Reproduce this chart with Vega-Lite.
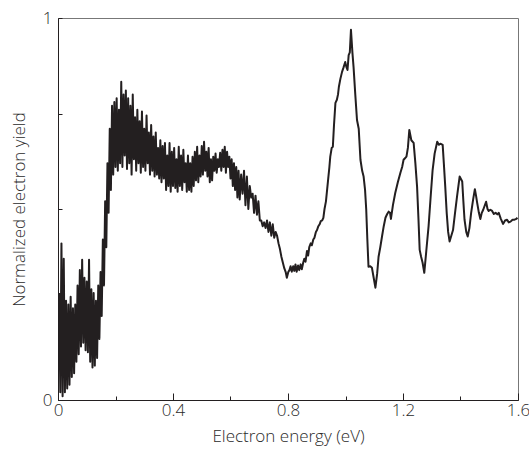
{
  "$schema": "https://vega.github.io/schema/vega-lite/v6.json",
  "width": 460,
  "height": 382,
  "autosize": {"type": "none"},
  "padding": {"left": 58, "top": 18, "right": 11, "bottom": 52},
  "background": "white",
  "config": {
    "view": {"stroke": "#777777", "strokeWidth": 1},
    "axis": {
      "labelFont": "Open Sans", "titleFont": "Open Sans",
      "labelFontSize": 17, "titleFontSize": 17,
      "labelColor": "#2a2a2a", "titleColor": "#2a2a2a",
      "titleFontWeight": 300, "labelFontWeight": 300,
      "domainColor": "#231f20", "tickColor": "#231f20",
      "grid": false
    }
  },
  "data": {"values": [
    {"energy":0.004,"yield":0.28},{"energy":0.008,"yield":0.02},{"energy":0.012,"yield":0.41},{"energy":0.016,"yield":0.01},
    {"energy":0.020,"yield":0.37},{"energy":0.024,"yield":0.02},{"energy":0.028,"yield":0.26},{"energy":0.032,"yield":0.03},
    {"energy":0.036,"yield":0.25},{"energy":0.040,"yield":0.04},{"energy":0.044,"yield":0.27},{"energy":0.048,"yield":0.06},
    {"energy":0.052,"yield":0.24},{"energy":0.056,"yield":0.07},{"energy":0.060,"yield":0.25},{"energy":0.064,"yield":0.10},
    {"energy":0.068,"yield":0.30},{"energy":0.072,"yield":0.12},{"energy":0.076,"yield":0.34},{"energy":0.080,"yield":0.14},
    {"energy":0.084,"yield":0.367},{"energy":0.088,"yield":0.15},{"energy":0.092,"yield":0.32},{"energy":0.096,"yield":0.13},
    {"energy":0.100,"yield":0.31},{"energy":0.104,"yield":0.125},{"energy":0.108,"yield":0.367},{"energy":0.112,"yield":0.10},
    {"energy":0.116,"yield":0.29},{"energy":0.120,"yield":0.085},{"energy":0.124,"yield":0.28},{"energy":0.128,"yield":0.09},
    {"energy":0.132,"yield":0.26},{"energy":0.136,"yield":0.11},{"energy":0.140,"yield":0.30},{"energy":0.144,"yield":0.16},
    {"energy":0.148,"yield":0.335},{"energy":0.152,"yield":0.22},{"energy":0.156,"yield":0.42},{"energy":0.160,"yield":0.30},
    {"energy":0.164,"yield":0.52},{"energy":0.168,"yield":0.40},{"energy":0.172,"yield":0.62},{"energy":0.176,"yield":0.49},
    {"energy":0.180,"yield":0.71},{"energy":0.184,"yield":0.55},{"energy":0.188,"yield":0.77},{"energy":0.192,"yield":0.59},
    {"energy":0.196,"yield":0.78},{"energy":0.200,"yield":0.61},{"energy":0.204,"yield":0.79},{"energy":0.208,"yield":0.60},
    {"energy":0.212,"yield":0.76},{"energy":0.216,"yield":0.62},{"energy":0.220,"yield":0.833},{"energy":0.224,"yield":0.61},
    {"energy":0.228,"yield":0.80},{"energy":0.232,"yield":0.64},{"energy":0.236,"yield":0.81},{"energy":0.240,"yield":0.605},
    {"energy":0.244,"yield":0.79},{"energy":0.248,"yield":0.62},{"energy":0.252,"yield":0.77},{"energy":0.256,"yield":0.59},
    {"energy":0.260,"yield":0.80},{"energy":0.264,"yield":0.63},{"energy":0.268,"yield":0.74},{"energy":0.272,"yield":0.60},
    {"energy":0.276,"yield":0.76},{"energy":0.280,"yield":0.62},{"energy":0.284,"yield":0.73},{"energy":0.288,"yield":0.595},
    {"energy":0.292,"yield":0.755},{"energy":0.296,"yield":0.61},{"energy":0.300,"yield":0.71},{"energy":0.304,"yield":0.60},
    {"energy":0.308,"yield":0.745},{"energy":0.312,"yield":0.62},{"energy":0.316,"yield":0.70},{"energy":0.320,"yield":0.59},
    {"energy":0.324,"yield":0.72},{"energy":0.328,"yield":0.60},{"energy":0.332,"yield":0.69},{"energy":0.336,"yield":0.585},
    {"energy":0.340,"yield":0.70},{"energy":0.344,"yield":0.59},{"energy":0.348,"yield":0.66},{"energy":0.352,"yield":0.58},
    {"energy":0.356,"yield":0.68},{"energy":0.360,"yield":0.57},{"energy":0.364,"yield":0.665},{"energy":0.368,"yield":0.58},
    {"energy":0.372,"yield":0.673},{"energy":0.376,"yield":0.55},{"energy":0.380,"yield":0.64},{"energy":0.384,"yield":0.56},
    {"energy":0.388,"yield":0.673},{"energy":0.392,"yield":0.545},{"energy":0.396,"yield":0.65},{"energy":0.400,"yield":0.56},
    {"energy":0.404,"yield":0.66},{"energy":0.408,"yield":0.555},{"energy":0.412,"yield":0.63},{"energy":0.416,"yield":0.545},
    {"energy":0.420,"yield":0.663},{"energy":0.424,"yield":0.56},{"energy":0.428,"yield":0.64},{"energy":0.432,"yield":0.55},
    {"energy":0.436,"yield":0.655},{"energy":0.440,"yield":0.57},{"energy":0.444,"yield":0.62},{"energy":0.448,"yield":0.545},
    {"energy":0.452,"yield":0.64},{"energy":0.456,"yield":0.55},{"energy":0.460,"yield":0.62},{"energy":0.464,"yield":0.545},
    {"energy":0.468,"yield":0.637},{"energy":0.472,"yield":0.56},{"energy":0.476,"yield":0.65},{"energy":0.480,"yield":0.575},
    {"energy":0.484,"yield":0.663},{"energy":0.488,"yield":0.57},{"energy":0.492,"yield":0.64},{"energy":0.496,"yield":0.585},
    {"energy":0.500,"yield":0.665},{"energy":0.504,"yield":0.59},{"energy":0.508,"yield":0.676},{"energy":0.512,"yield":0.60},
    {"energy":0.516,"yield":0.65},{"energy":0.520,"yield":0.585},{"energy":0.524,"yield":0.66},{"energy":0.528,"yield":0.57},
    {"energy":0.532,"yield":0.63},{"energy":0.536,"yield":0.575},{"energy":0.540,"yield":0.637},{"energy":0.544,"yield":0.60},
    {"energy":0.548,"yield":0.645},{"energy":0.552,"yield":0.595},{"energy":0.556,"yield":0.63},{"energy":0.560,"yield":0.61},
    {"energy":0.564,"yield":0.647},{"energy":0.568,"yield":0.60},{"energy":0.572,"yield":0.655},{"energy":0.576,"yield":0.61},
    {"energy":0.580,"yield":0.663},{"energy":0.584,"yield":0.595},{"energy":0.588,"yield":0.65},{"energy":0.592,"yield":0.61},
    {"energy":0.596,"yield":0.637},{"energy":0.600,"yield":0.58},{"energy":0.604,"yield":0.63},{"energy":0.608,"yield":0.56},
    {"energy":0.612,"yield":0.62},{"energy":0.616,"yield":0.55},{"energy":0.620,"yield":0.61},{"energy":0.624,"yield":0.53},
    {"energy":0.628,"yield":0.60},{"energy":0.632,"yield":0.525},
    {"energy":0.637,"yield":0.59},{"energy":0.642,"yield":0.54},{"energy":0.647,"yield":0.60},{"energy":0.652,"yield":0.51},
    {"energy":0.657,"yield":0.585},{"energy":0.662,"yield":0.50},{"energy":0.667,"yield":0.56},{"energy":0.672,"yield":0.53},
    {"energy":0.677,"yield":0.54},{"energy":0.682,"yield":0.49},{"energy":0.687,"yield":0.535},{"energy":0.692,"yield":0.485},
    {"energy":0.697,"yield":0.52},{"energy":0.702,"yield":0.47},{"energy":0.707,"yield":0.47},{"energy":0.712,"yield":0.455},
    {"energy":0.717,"yield":0.465},{"energy":0.722,"yield":0.45},{"energy":0.727,"yield":0.47},{"energy":0.732,"yield":0.44},
    {"energy":0.737,"yield":0.465},{"energy":0.742,"yield":0.43},{"energy":0.747,"yield":0.46},{"energy":0.752,"yield":0.425},
    {"energy":0.757,"yield":0.44},{"energy":0.762,"yield":0.43},{"energy":0.767,"yield":0.41},{"energy":0.772,"yield":0.395},
    {"energy":0.777,"yield":0.375},{"energy":0.782,"yield":0.36},{"energy":0.787,"yield":0.345},{"energy":0.792,"yield":0.335},
    {"energy":0.796,"yield":0.32},{"energy":0.801,"yield":0.335},{"energy":0.805,"yield":0.34},{"energy":0.809,"yield":0.35},
    {"energy":0.813,"yield":0.336},{"energy":0.818,"yield":0.35},{"energy":0.822,"yield":0.338},{"energy":0.826,"yield":0.355},
    {"energy":0.830,"yield":0.336},{"energy":0.835,"yield":0.352},{"energy":0.839,"yield":0.34},{"energy":0.844,"yield":0.355},
    {"energy":0.848,"yield":0.342},{"energy":0.853,"yield":0.36},{"energy":0.857,"yield":0.37},{"energy":0.861,"yield":0.362},
    {"energy":0.866,"yield":0.39},{"energy":0.870,"yield":0.378},{"energy":0.874,"yield":0.40},{"energy":0.879,"yield":0.41},
    {"energy":0.883,"yield":0.405},{"energy":0.888,"yield":0.42},{"energy":0.892,"yield":0.425},{"energy":0.897,"yield":0.44},
    {"energy":0.901,"yield":0.445},{"energy":0.905,"yield":0.454},{"energy":0.910,"yield":0.46},{"energy":0.914,"yield":0.468},
    {"energy":0.919,"yield":0.47},{"energy":0.923,"yield":0.477},{"energy":0.927,"yield":0.50},{"energy":0.932,"yield":0.52},
    {"energy":0.936,"yield":0.55},{"energy":0.940,"yield":0.58},{"energy":0.944,"yield":0.61},{"energy":0.947,"yield":0.637},
    {"energy":0.952,"yield":0.66},{"energy":0.956,"yield":0.663},{"energy":0.960,"yield":0.72},{"energy":0.965,"yield":0.778},
    {"energy":0.970,"yield":0.786},{"energy":0.974,"yield":0.80},{"energy":0.977,"yield":0.82},{"energy":0.982,"yield":0.84},
    {"energy":0.988,"yield":0.859},{"energy":0.993,"yield":0.87},{"energy":0.999,"yield":0.885},{"energy":1.003,"yield":0.872},
    {"energy":1.007,"yield":0.864},{"energy":1.011,"yield":0.903},{"energy":1.015,"yield":0.91},{"energy":1.019,"yield":0.969},
    {"energy":1.024,"yield":0.91},{"energy":1.028,"yield":0.872},{"energy":1.034,"yield":0.80},{"energy":1.040,"yield":0.733},
    {"energy":1.046,"yield":0.71},{"energy":1.052,"yield":0.629},{"energy":1.058,"yield":0.60},{"energy":1.063,"yield":0.585},
    {"energy":1.068,"yield":0.55},{"energy":1.072,"yield":0.50},{"energy":1.076,"yield":0.42},{"energy":1.080,"yield":0.349},
    {"energy":1.086,"yield":0.35},{"energy":1.092,"yield":0.346},{"energy":1.098,"yield":0.32},{"energy":1.104,"yield":0.294},
    {"energy":1.110,"yield":0.33},{"energy":1.115,"yield":0.375},{"energy":1.121,"yield":0.40},{"energy":1.127,"yield":0.428},
    {"energy":1.133,"yield":0.455},{"energy":1.139,"yield":0.477},{"energy":1.145,"yield":0.487},{"energy":1.150,"yield":0.493},
    {"energy":1.155,"yield":0.49},{"energy":1.158,"yield":0.474},{"energy":1.165,"yield":0.51},{"energy":1.173,"yield":0.542},
    {"energy":1.182,"yield":0.57},{"energy":1.191,"yield":0.595},{"energy":1.197,"yield":0.61},{"energy":1.202,"yield":0.629},
    {"energy":1.207,"yield":0.633},{"energy":1.212,"yield":0.637},{"energy":1.217,"yield":0.66},{"energy":1.222,"yield":0.707},
    {"energy":1.229,"yield":0.68},{"energy":1.237,"yield":0.673},{"energy":1.243,"yield":0.62},{"energy":1.249,"yield":0.558},
    {"energy":1.254,"yield":0.47},{"energy":1.258,"yield":0.393},{"energy":1.263,"yield":0.375},{"energy":1.268,"yield":0.36},
    {"energy":1.274,"yield":0.333},{"energy":1.281,"yield":0.39},{"energy":1.289,"yield":0.455},{"energy":1.296,"yield":0.53},
    {"energy":1.303,"yield":0.602},{"energy":1.310,"yield":0.645},{"energy":1.319,"yield":0.676},{"energy":1.325,"yield":0.668},
    {"energy":1.330,"yield":0.671},{"energy":1.338,"yield":0.668},{"energy":1.342,"yield":0.62},{"energy":1.347,"yield":0.558},
    {"energy":1.352,"yield":0.49},{"energy":1.357,"yield":0.44},{"energy":1.362,"yield":0.415},{"energy":1.368,"yield":0.43},
    {"energy":1.374,"yield":0.445},{"energy":1.381,"yield":0.49},{"energy":1.388,"yield":0.533},{"energy":1.397,"yield":0.585},
    {"energy":1.402,"yield":0.578},{"energy":1.406,"yield":0.572},{"energy":1.410,"yield":0.52},{"energy":1.414,"yield":0.472},
    {"energy":1.420,"yield":0.44},{"energy":1.425,"yield":0.428},{"energy":1.431,"yield":0.45},{"energy":1.437,"yield":0.49},
    {"energy":1.444,"yield":0.525},{"energy":1.450,"yield":0.552},{"energy":1.454,"yield":0.535},{"energy":1.458,"yield":0.516},
    {"energy":1.464,"yield":0.49},{"energy":1.469,"yield":0.474},{"energy":1.474,"yield":0.49},{"energy":1.479,"yield":0.498},
    {"energy":1.489,"yield":0.519},{"energy":1.494,"yield":0.50},{"energy":1.498,"yield":0.495},{"energy":1.504,"yield":0.498},
    {"energy":1.510,"yield":0.495},{"energy":1.516,"yield":0.487},{"energy":1.522,"yield":0.49},{"energy":1.528,"yield":0.486},
    {"energy":1.533,"yield":0.49},{"energy":1.540,"yield":0.475},{"energy":1.548,"yield":0.461},{"energy":1.555,"yield":0.47},
    {"energy":1.562,"yield":0.472},{"energy":1.568,"yield":0.465},{"energy":1.574,"yield":0.467},{"energy":1.581,"yield":0.472},
    {"energy":1.588,"yield":0.472},{"energy":1.594,"yield":0.474},{"energy":1.598,"yield":0.477}
  ]},
  "mark": {"type": "line", "color": "#231f20", "strokeWidth": 2, "strokeJoin": "round", "clip": true},
  "encoding": {
    "x": {
      "field": "energy", "type": "quantitative",
      "scale": {"domain": [0, 1.6], "nice": false, "zero": false},
      "axis": {
        "title": "Electron energy (eV)",
        "values": [0, 0.2, 0.4, 0.6, 0.8, 1.0, 1.2, 1.4, 1.6],
        "labelExpr": "indexof([0, 0.4, 0.8, 1.2, 1.6], datum.value) >= 0 ? '' + datum.value : ''",
        "tickSize": {"condition": {"test": "indexof([0, 0.4, 0.8, 1.2, 1.6], datum.value) >= 0", "value": -7}, "value": -4},
        "labelPadding": 9,
        "titlePadding": 10,
        "labelFlush": false
      }
    },
    "y": {
      "field": "yield", "type": "quantitative",
      "scale": {"domain": [0, 1], "nice": false, "zero": false},
      "axis": {
        "title": "Normalized electron yield",
        "values": [0, 0.25, 0.5, 0.75, 1],
        "labelExpr": "datum.value == 0 || datum.value == 1 ? '' + datum.value : ''",
        "tickSize": -4,
        "labelPadding": 10,
        "titlePadding": 14,
        "labelBaseline": "middle"
      }
    }
  }
}
